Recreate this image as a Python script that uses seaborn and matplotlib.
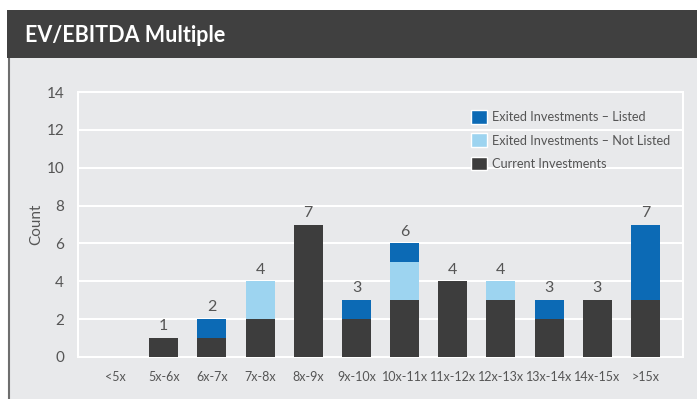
import matplotlib
matplotlib.use("Agg")
import matplotlib.pyplot as plt
from matplotlib.patches import Rectangle, Patch
import seaborn as sns
import pandas as pd
import numpy as np

categories = ["<5x", "5x-6x", "6x-7x", "7x-8x", "8x-9x", "9x-10x", "10x-11x",
              "11x-12x", "12x-13x", "13x-14x", "14x-15x", ">15x"]
current = [0, 1, 1, 2, 7, 2, 3, 4, 3, 2, 3, 3]
exited_not_listed = [0, 0, 0, 2, 0, 0, 2, 0, 1, 0, 0, 0]
exited_listed = [0, 0, 1, 0, 0, 1, 1, 0, 0, 1, 0, 4]
total_labels = ["", "1", "2", "4", "7", "3", "6", "4", "4", "3", "3", "7"]

C_LISTED = "#0C6AB5"
C_NOT_LISTED = "#9DD4F0"
C_CURRENT = "#3D3D3D"
PANEL = "#E8E9EB"
TEXT = "#555555"

sns.set_theme(style="white")
plt.rcParams["font.family"] = ["Lato", "DejaVu Sans"]

df = pd.DataFrame({
    "category": categories,
    "current": current,
    "not_listed": exited_not_listed,
    "listed": exited_listed,
})
df["lvl2"] = df["current"] + df["not_listed"]
df["lvl3"] = df["lvl2"] + df["listed"]

fig = plt.figure(figsize=(6.97, 3.99), dpi=100)
fig.patch.set_facecolor("white")

# background panel and header band
fig.add_artist(Rectangle((8 / 697, 0), 1, (399 - 58) / 399,
                         transform=fig.transFigure, facecolor=PANEL,
                         edgecolor="none", zorder=0))
fig.add_artist(plt.Line2D([9 / 697, 9 / 697], [0, (399 - 58) / 399],
                          transform=fig.transFigure, color="#6E6E6E", lw=1.5, zorder=1))
fig.add_artist(Rectangle((7 / 697, (399 - 58) / 399), 1, 48 / 399,
                         transform=fig.transFigure, facecolor="#404040",
                         edgecolor="none", zorder=1))
fig.text(25 / 697, (399 - 35) / 399, "EV/EBITDA Multiple", color="white",
         fontsize=15.5, fontweight="bold", va="center", ha="left")

ax = fig.add_axes([78 / 697, (399 - 357) / 399, (683 - 78) / 697, (357 - 92) / 399])
ax.set_facecolor(PANEL)

# stacked bars drawn as cumulative layers
bar_kw = dict(x="category", width=0.6, saturation=1, ax=ax, zorder=3,
              edgecolor="none", linewidth=0)
sns.barplot(data=df, y="lvl3", color=C_LISTED, **bar_kw)
sns.barplot(data=df, y="lvl2", color=C_NOT_LISTED, **bar_kw)
sns.barplot(data=df, y="current", color=C_CURRENT, **bar_kw)

for i, (lab, h) in enumerate(zip(total_labels, df["lvl3"])):
    if lab:
        ax.text(i, h + 0.25, lab, ha="center", va="bottom", fontsize=11.5,
                color=TEXT, zorder=4)

ax.set_ylim(0, 14)
ax.set_xlim(-0.78, 11.78)
ax.set_yticks(np.arange(0, 15, 2))
ax.yaxis.grid(True, color="white", lw=1.5, zorder=1)
ax.set_axisbelow(True)
for side in ["left", "bottom", "right", "top"]:
    ax.spines[side].set_visible(True)
    ax.spines[side].set_color("white")
    ax.spines[side].set_linewidth(1.5)
ax.tick_params(axis="both", length=0, colors=TEXT)
ax.tick_params(axis="y", labelsize=11, pad=10)
ax.tick_params(axis="x", labelsize=9, pad=10)
ax.set_xlabel("")
ax.set_ylabel("Count", fontsize=11, color=TEXT, labelpad=2)

handles = [Patch(facecolor=C_LISTED, label="Exited Investments \u2013 Listed"),
           Patch(facecolor=C_NOT_LISTED, label="Exited Investments \u2013 Not Listed"),
           Patch(facecolor=C_CURRENT, label="Current Investments")]
leg = ax.legend(handles=handles, loc="upper left",
                bbox_to_anchor=(465 / 697, (399 - 104) / 399),
                bbox_transform=fig.transFigure, frameon=False, fontsize=9.2,
                handlelength=1.25, handleheight=1.25, handletextpad=0.4,
                labelspacing=0.75, borderpad=0)
for t in leg.get_texts():
    t.set_color(TEXT)

fig.savefig("out.png", dpi=100, facecolor=fig.get_facecolor())
